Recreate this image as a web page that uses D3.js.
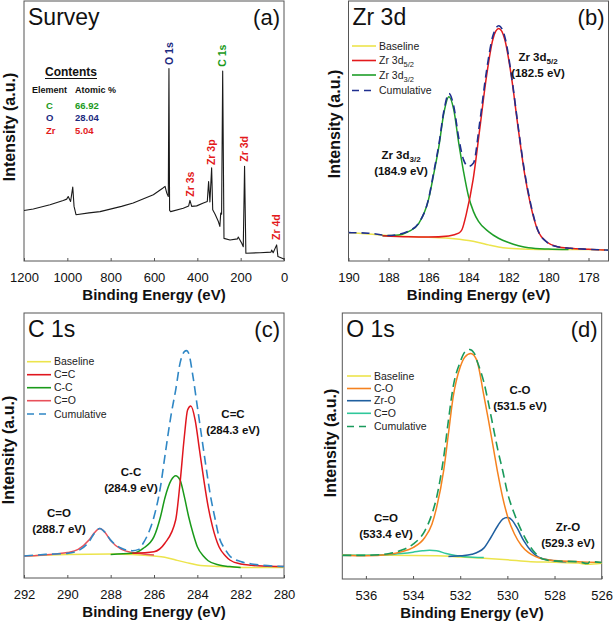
<!DOCTYPE html>
<html><head><meta charset="utf-8">
<script src="https://cdn.jsdelivr.net/npm/d3@7"></script>
<style>
body{margin:0;background:#fff}
svg{display:block}
text{font-family:"Liberation Sans",Arial,Helvetica,sans-serif}
</style>
</head><body>
<svg id="chart" width="614" height="625"></svg>
<script>
// ---------------- DATA ----------------
// (a) Survey: [binding energy (eV), intensity (a.u.)]
const surveyTicks = [1200, 1000, 800, 600, 400, 200, 0];
const surveySpectrum = [
  [1200,19.4],[1157,20.0],[1080,21.6],[1019,23.3],[1003,23.8],[996,24.8],[985,22.9],[975,28.4],[969,21.0],[960,17.8],
  [900,18.5],[849,19.0],[750,21.0],[696,22.3],[603,25.5],[560,28.0],[549,28.7],[541,26.1],[534,24.8],[531,74.0],
  [528,19.5],[523,19.0],[465,20.3],[440,21.2],[434,23.3],[426,21.0],[403,21.2],[372,22.3],[354,22.9],[348,30.6],
  [342,22.7],[334,35.8],[329,19.7],[318,18.0],[303,15.2],[296,13.3],[292,18.4],[288,18.0],[283,73.1],[277,8.7],
  [249,8.1],[215,8.5],[211,9.2],[195,6.8],[188,5.5],[182,36.4],[176,3.0],[111,3.2],[60,3.4],[57,4.2],
  [50,3.2],[34,6.2],[28,1.7],[3,0.9],[0,0.6]
];
const surveyPeakLabels = [
  {label:"O 1s", e:531, v:75.4, color:"#1c2a80"},
  {label:"C 1s", e:283, v:74.7, color:"#1a9a1a"},
  {label:"Zr 3s", e:434, v:24.7, color:"#e31a1c"},
  {label:"Zr 3p", e:334, v:36.9, color:"#e31a1c"},
  {label:"Zr 3d", e:182, v:38.2, color:"#e31a1c"},
  {label:"Zr 4d", e:34, v:8.1, color:"#e31a1c"}
];
const contentElements = ["C", "O", "Zr"];
const contentAtomic = ["66.92", "28.04", "5.04"];
const contentColors = ["#1a9a1a", "#1c2a80", "#e31a1c"];

// (b) Zr 3d
const zrTicks = [190, 188, 186, 184, 182, 180, 178];
const zrBaseline = [[190,10.9],[189,10.4],[188,9.8],[187,9.4],[186,9.1],[185,8.75],[184,7.85],[183.5,7.1],[183,6.2],[182.5,5.4],[182,4.9],[181,4.5],[180,4.4],[178,4.4],[177,4.2]];
const zr3d52 = [[188.3,9.7],[187,9.3],[186,9.2],[184.99,9.65],[184.49,10.7],[184.33,12.0],[184.1,18.4],[183.77,31.3],[183.44,50.6],[183.11,70.5],[182.78,85.3],[182.49,89.4],[182.19,85.3],[181.86,71.2],[181.53,51.9],[181.2,33.8],[180.88,21.0],[180.55,12.0],[180.05,7.1],[179.56,5.5],[178.9,4.9],[178,4.5],[177.18,4.2]];
const zr3d32 = [[188.3,9.7],[187.5,10.0],[187,11.3],[186.5,14.3],[186,23.6],[185.73,33.8],[185.48,44.1],[185.23,57.0],[184.98,63.2],[184.74,58.3],[184.49,45.4],[184.25,34.5],[184.0,24.9],[183.75,19.0],[183.5,15.2],[183.0,11.3],[182.5,8.75],[182.0,7.1],[181.5,5.9],[181.0,5.1],[180.0,4.6],[179.0,4.4]];
const zrCumulative = [[190,10.9],[189,10.7],[188,9.8],[187,11.5],[186.5,14.5],[186,23.8],[185.73,34.5],[185.48,44.8],[185.23,57.7],[184.98,64.4],[184.74,59.6],[184.49,47.4],[184.25,39.0],[184.0,36.4],[183.75,37.7],[183.44,53.2],[183.11,72.5],[182.78,86.6],[182.49,90.5],[182.19,86.4],[181.86,71.8],[181.53,52.5],[181.2,34.5],[180.88,21.6],[180.55,12.2],[180.05,7.1],[179.56,5.5],[178.9,4.9],[178,4.5],[177,4.2]];

// (c) C 1s
const cTicks = [292, 290, 288, 286, 284, 282, 280];
const cBaseline = [[292,8.3],[290,8.9],[288,9.1],[287,8.9],[286,8.3],[285.5,7.8],[285,6.8],[284.5,5.8],[284,4.9],[283,4.3],[282,4.0],[281,4.0],[280,4.0]];
const cCC = [[287,9.3],[286,9.9],[285.5,13.1],[285,21.9],[284.8,35.7],[284.6,53.3],[284.45,63.4],[284.3,64.9],[284.1,59.6],[283.9,48.3],[283.7,37.0],[283.5,26.9],[283.3,19.4],[283,11.8],[282.7,8.3],[282.5,6.8],[282,5.3],[281.5,4.8],[281,4.5],[280,4.3]];
const cCminusC = [[288,8.9],[287,9.3],[286.5,11.2],[286,15.6],[285.7,23.1],[285.5,30.1],[285.2,37.0],[285,38.6],[284.8,37.0],[284.6,30.7],[284.4,23.1],[284.2,16.9],[284,11.8],[283.7,8.1],[283.5,6.5],[283,4.9],[282.5,4.3],[282,4.0]];
const cCO = [[292,8.3],[290.5,9.1],[290,9.6],[289.5,10.8],[289,14.3],[288.75,17.1],[288.5,18.7],[288.25,17.1],[288,14.1],[287.5,10.8],[287,9.6],[286.5,9.1],[286,8.7]];
const cCumulative = [[292,8.3],[291,8.9],[290,9.3],[289.5,10.3],[289,13.7],[288.75,16.9],[288.5,18.7],[288.25,17.1],[288,14.3],[287.5,11.2],[287,10.3],[286.7,10.8],[286.5,13.1],[286.2,18.1],[286,23.1],[285.7,34.5],[285.5,45.8],[285.2,62.1],[285,70.9],[284.8,81.0],[284.6,85.4],[284.5,85.8],[284.4,84.8],[284.2,76.0],[284,64.7],[283.8,53.3],[283.6,42.0],[283.4,31.3],[283.2,23.1],[283,15.6],[282.7,10.6],[282.5,8.3],[282,6.2],[281.5,5.3],[281,4.8],[280,4.3]];

// (d) O 1s
const oTicks = [536, 534, 532, 530, 528, 526];
const oBaseline = [[537,8.9],[535,8.9],[533,8.7],[532,8.3],[531,7.8],[530,7.2],[529,6.5],[528,6.3],[527,6.0],[526.6,5.5],[526,5.9]];
const oCO = [[537,8.9],[536,8.7],[535,9.3],[534.5,10.2],[534,11.8],[533.5,15.6],[533.2,20.6],[533,26.9],[532.7,40.8],[532.5,54.6],[532.3,68.4],[532,79.7],[531.8,83.5],[531.55,84.8],[531.3,82.3],[531,69.1],[530.8,59.6],[530.6,49.6],[530.4,39.5],[530.2,30.7],[530,23.8],[529.7,16.9],[529.4,12.5],[529.1,9.9],[528.8,8.4],[528.5,7.5],[528,7.0],[527,6.5],[526,6.2]];
const oZrO = [[532.5,8.5],[532,8.7],[531.5,9.3],[531,11.6],[530.7,15.6],[530.4,20.1],[530.2,22.5],[530,23.1],[529.8,22.1],[529.6,19.4],[529.3,14.3],[529,10.6],[528.7,8.3],[528.4,7.4],[528,6.8],[527.5,6.5]];
const oCdO = [[537,8.9],[536,8.9],[535,9.2],[534.5,9.6],[534,10.1],[533.6,10.6],[533.3,10.8],[533,10.6],[532.6,9.6],[532.2,8.8],[531.8,8.4],[531,8.1]];
const oCumulative = [[537,8.9],[536,8.9],[535,9.6],[534.5,10.8],[534,13.1],[533.5,18.1],[533.2,24.4],[533,30.7],[532.7,45.8],[532.5,59.6],[532.3,72.2],[532,81.6],[531.8,85.4],[531.6,86.3],[531.4,84.8],[531.3,82.3],[531,74.1],[530.8,66.0],[530.6,57.1],[530.4,48.3],[530.2,40.8],[530,32.6],[529.7,24.4],[529.4,18.1],[529.1,13.1],[528.8,9.6],[528.5,7.5],[528,6.8],[527,6.5],[526.6,5.8],[526.5,6.5],[526,6.2]];

// ---------------- DRAW ----------------
const svg = d3.select("#chart");
const FONT = '"Liberation Sans",Arial,Helvetica,sans-serif';

function panel(cfg) {
  const g = svg.append("g");
  const x = d3.scaleLinear().domain(cfg.domain).range([cfg.x0, cfg.x1]);
  const y = d3.scaleLinear().domain([0, 100]).range([cfg.y1, cfg.y0]);
  const ax = g.append("g").attr("transform", `translate(0,${cfg.y1})`)
    .call(d3.axisBottom(x).tickValues(cfg.ticks).tickSize(-3).tickPadding(12).tickFormat(d3.format("d")));
  ax.select(".domain").remove();
  ax.selectAll(".tick line").attr("stroke", "#555");
  ax.selectAll(".tick text").attr("font-size", 13).attr("fill", "#111").attr("font-family", FONT);
  g.append("rect").attr("x", cfg.x0).attr("y", cfg.y0).attr("width", cfg.x1 - cfg.x0).attr("height", cfg.y1 - cfg.y0)
    .attr("fill", "none").attr("stroke", "#555").attr("stroke-width", 1);
  g.append("text").attr("x", (cfg.x0 + cfg.x1) / 2).attr("y", cfg.y1 + 39)
    .attr("text-anchor", "middle").attr("font-size", 15).attr("font-weight", "bold").attr("fill", "#111")
    .text("Binding Energy (eV)");
  g.append("text").attr("transform", `translate(${cfg.ytx},${cfg.yty}) rotate(-90)`)
    .attr("text-anchor", "middle").attr("dy", "0.35em").attr("font-size", 16).attr("font-weight", "bold").attr("fill", "#111")
    .text("Intensity (a.u.)");
  g.append("text").attr("x", cfg.x0 + 4).attr("y", cfg.y0 + 24).attr("font-size", 23).attr("fill", "#111").text(cfg.title);
  g.append("text").attr("x", cfg.x1 - 4).attr("y", cfg.y0 + 24).attr("text-anchor", "end").attr("font-size", 22).attr("fill", "#111").text(cfg.tag);
  return {g, x, y};
}

function curve(p, data, color, opts = {}) {
  const line = d3.line().x(d => p.x(d[0])).y(d => p.y(d[1]))
    .curve(opts.linear ? d3.curveLinear : d3.curveMonotoneX);
  p.g.append("path").datum(data).attr("d", line).attr("fill", "none")
    .attr("stroke", color).attr("stroke-width", opts.w || 1.5)
    .attr("stroke-dasharray", opts.dash || null).attr("stroke-linejoin", "round");
}

function legend(p, x, rows, items) {
  items.forEach((it, i) => {
    const yy = rows[i];
    p.g.append("line").attr("x1", x).attr("x2", x + 24).attr("y1", yy).attr("y2", yy)
      .attr("stroke", it.color).attr("stroke-width", 1.6).attr("stroke-dasharray", it.dash || null);
    const t = p.g.append("text").attr("x", x + 27).attr("y", yy).attr("dy", "0.35em")
      .attr("font-size", 10.5).attr("fill", "#222");
    if (it.sub) {
      t.append("tspan").text(it.label);
      t.append("tspan").attr("font-size", 7.5).attr("dy", 3).text(it.sub);
    } else t.text(it.label);
  });
}

function annot(p, lines, cx, cy) {
  lines.forEach((ln, i) => {
    const t = p.g.append("text").attr("x", cx).attr("y", cy + i * 16).attr("dy", "0.35em")
      .attr("text-anchor", "middle").attr("font-size", 11.5).attr("font-weight", "bold").attr("fill", "#111");
    if (typeof ln === "string") t.text(ln);
    else { t.append("tspan").text(ln[0]); t.append("tspan").attr("font-size", 8).attr("dy", 3).text(ln[1]); }
  });
}

const YELLOW = "#ece44c";

// ---- (a) ----
const pa = panel({x0:24, x1:284, y0:1, y1:261, domain:[1200,0], ticks:surveyTicks, title:"Survey", tag:"(a)", ytx:9, yty:127});
curve(pa, surveySpectrum, "#1a1a1a", {linear:true, w:1.1});
surveyPeakLabels.forEach(d => {
  pa.g.append("text").attr("transform", `translate(${pa.x(d.e)},${pa.y(d.v)}) rotate(-90)`)
    .attr("dy", "0.36em").attr("font-size", 10.5).attr("font-weight", "bold").attr("fill", d.color).text(d.label);
});
pa.g.append("text").attr("x", 45).attr("y", 76).attr("font-size", 12).attr("font-weight", "bold").attr("fill", "#111").text("Contents");
pa.g.append("line").attr("x1", 45).attr("x2", 97).attr("y1", 78.5).attr("y2", 78.5).attr("stroke", "#111").attr("stroke-width", 1);
pa.g.append("text").attr("x", 32).attr("y", 92.5).attr("font-size", 9).attr("font-weight", "bold").attr("fill", "#111").text("Element");
pa.g.append("text").attr("x", 75).attr("y", 92.5).attr("font-size", 9).attr("font-weight", "bold").attr("fill", "#111").text("Atomic %");
contentElements.forEach((el, i) => {
  const yy = 108.5 + i * 12.5;
  pa.g.append("text").attr("x", 46).attr("y", yy).attr("font-size", 9.5).attr("font-weight", "bold").attr("fill", contentColors[i]).text(el);
  pa.g.append("text").attr("x", 75).attr("y", yy).attr("font-size", 9.5).attr("font-weight", "bold").attr("fill", contentColors[i]).text(contentAtomic[i]);
});

// ---- (b) ----
const pb = panel({x0:348.5, x1:608.5, y0:1, y1:261, domain:[190,177], ticks:zrTicks, title:"Zr 3d", tag:"(b)", ytx:334, yty:124});
curve(pb, zrBaseline, YELLOW);
curve(pb, zr3d32, "#1e9e28");
curve(pb, zr3d52, "#e31a1c");
curve(pb, zrCumulative, "#1f2f8f", {dash:"8,5", w:1.6});
legend(pb, 352, [46, 60.5, 75, 90.5], [
  {label:"Baseline", color:YELLOW},
  {label:"Zr 3d", sub:"5/2", color:"#e31a1c"},
  {label:"Zr 3d", sub:"3/2", color:"#1e9e28"},
  {label:"Cumulative", color:"#1f2f8f", dash:"7,5"}
]);
annot(pb, [["Zr 3d","5/2"], "(182.5 eV)"], 538, 57);
annot(pb, [["Zr 3d","3/2"], "(184.9 eV)"], 401, 155);

// ---- (c) ----
const pc = panel({x0:24, x1:284, y0:313, y1:578, domain:[292,280], ticks:cTicks, title:"C 1s", tag:"(c)", ytx:8, yty:450});
curve(pc, cBaseline, YELLOW);
curve(pc, cCO, "#e8505a");
curve(pc, cCminusC, "#1a9a1a");
curve(pc, cCC, "#e0161e");
curve(pc, cCumulative, "#2f87c5", {dash:"9,5", w:1.6});
legend(pc, 27, [361.7, 374.7, 387.7, 400.7, 414], [
  {label:"Baseline", color:YELLOW},
  {label:"C=C", color:"#e0161e"},
  {label:"C-C", color:"#1a9a1a"},
  {label:"C=O", color:"#e8505a"},
  {label:"Cumulative", color:"#2f87c5", dash:"7,5"}
]);
annot(pc, ["C=C", "(284.3 eV)"], 233, 414);
annot(pc, ["C-C", "(284.9 eV)"], 131, 472);
annot(pc, ["C=O", "(288.7 eV)"], 59, 513);

// ---- (d) ----
const pd = panel({x0:342.3, x1:601.7, y0:313, y1:579, domain:[537,526], ticks:oTicks, title:"O 1s", tag:"(d)", ytx:330, yty:443});
curve(pd, oBaseline, YELLOW);
curve(pd, oCdO, "#2fc79a");
curve(pd, oZrO, "#1f5f9f");
curve(pd, oCO, "#f5821f");
curve(pd, oCumulative, "#1a9a5c", {dash:"9,5", w:1.6});
legend(pd, 347, [376, 388.5, 400.7, 413.3, 426.5], [
  {label:"Baseline", color:YELLOW},
  {label:"C-O", color:"#f5821f"},
  {label:"Zr-O", color:"#1f5f9f"},
  {label:"C=O", color:"#2fc79a"},
  {label:"Cumulative", color:"#1a9a5c", dash:"7,5"}
]);
annot(pd, ["C-O", "(531.5 eV)"], 520, 390);
annot(pd, ["Zr-O", "(529.3 eV)"], 568, 527);
annot(pd, ["C=O", "(533.4 eV)"], 386, 518);
</script>
</body></html>
